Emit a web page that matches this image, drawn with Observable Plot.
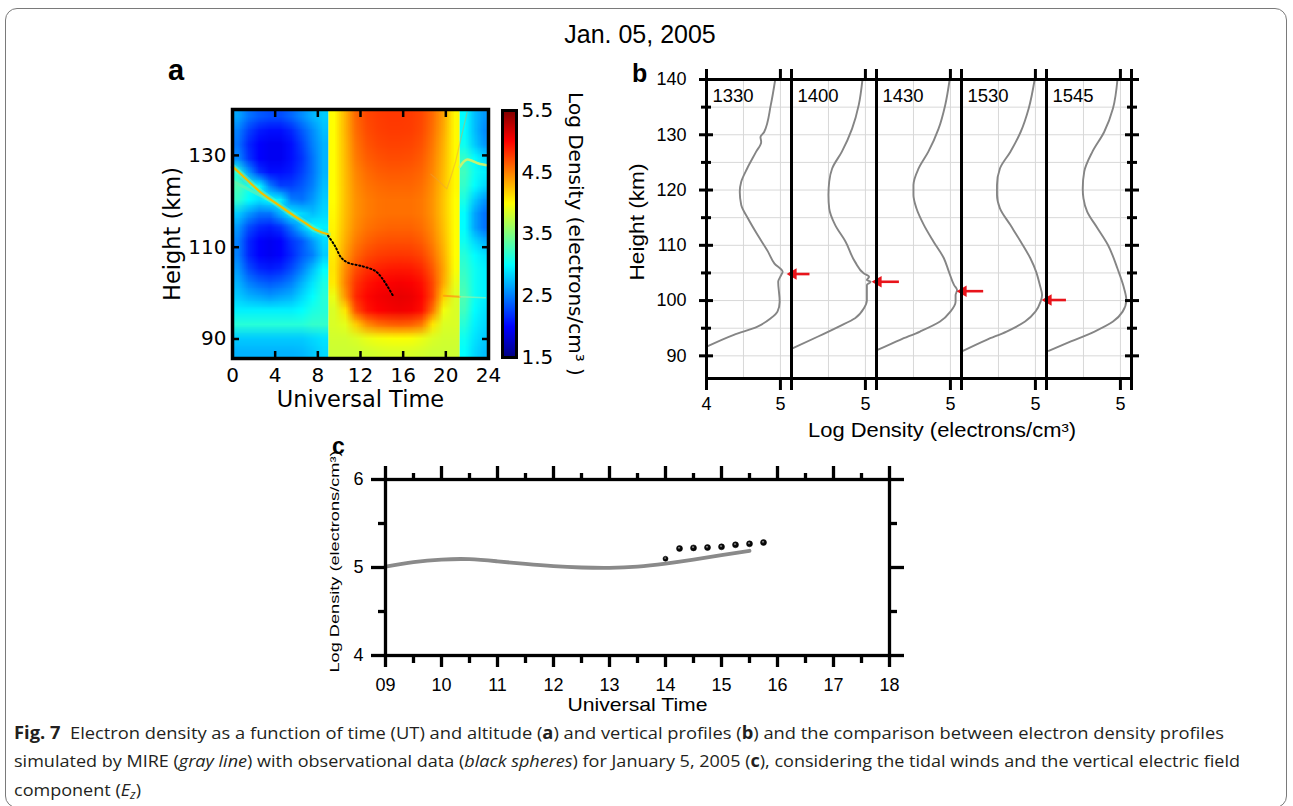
<!DOCTYPE html>
<html>
<head>
<meta charset="utf-8">
<script src="https://cdn.jsdelivr.net/npm/d3@7"></script>
<script src="https://cdn.jsdelivr.net/npm/@observablehq/plot@0.6"></script>
<style>
  html, body { margin: 0; padding: 0; background: #fff; }
  #fig { position: relative; width: 1293px; height: 806px; overflow: hidden; background: #fff; font-family: "Liberation Sans", Arial, sans-serif; color: #000; }
  .abs { position: absolute; }
  #border { position: absolute; left: 5px; top: 8px; width: 1282px; height: 800px; border: 1px solid #7a7a7a; border-radius: 12px; box-sizing: border-box; }
  .letter { position: absolute; font-weight: bold; font-family: "Liberation Sans", Arial, sans-serif; line-height: 1; }
  #title { position: absolute; left: 0; width: 1280px; top: 22px; text-align: center; font-size: 25px; line-height: 25px; }
  .cap-line { position: absolute; left: 14px; white-space: nowrap; font-family: "Open Sans", "Noto Sans", sans-serif; font-size: 17px; line-height: 22px; transform-origin: 0 50%; display: inline-block; color: #231f20; }
  .cap-line b { font-weight: 700; }
  sub { font-size: 0.7em; vertical-align: -0.25em; }
</style>
</head>
<body>
<div id="fig">
  <div id="border"></div>
  <div id="title">Jan. 05, 2005</div>
  <div class="letter" style="left:168px; top:56px; font-size:29px;">a</div>
  <div class="letter" style="left:632px; top:61px; font-size:25px;">b</div>
  <div class="letter" style="left:332px; top:435px; font-size:23px;">c</div>
  <div id="plotA" class="abs" style="left:160px; top:60px;"></div>
  <div id="plotBar" class="abs" style="left:490px; top:60px;"></div>
  <div id="plotB" class="abs" style="left:620px; top:40px;"></div>
  <div id="plotC" class="abs" style="left:320px; top:440px;"></div>
  <div class="cap-line" data-w="1210" style="top:722px;"><b>Fig. 7</b>&nbsp; Electron density as a function of time (UT) and altitude (<b>a</b>) and vertical profiles (<b>b</b>) and the comparison between electron density profiles</div>
  <div class="cap-line" data-w="1226" style="top:750px;">simulated by MIRE (<i>gray line</i>) with observational data (<i>black spheres</i>) for January 5, 2005 (<b>c</b>), considering the tidal winds and the vertical electric field</div>
  <div class="cap-line" data-same="1" style="top:779px;">component (<i>E<sub>z</sub></i>)</div>
</div>
<script>
// ---------------- Panel a: log electron density (rows from top 140 km down to 85.75 km) ----------------
const gridTop = 140, gridBottom = 85.75;
const timeStart = 0, dayStart = 9, dayEnd = 21.3, timeEnd = 24;

// night before sunrise: columns at 0.5 ... 8.5 UT
const nightLeft = [
  [2.65, 2.45, 2.35, 2.30, 2.30, 2.40, 2.55, 2.70, 2.80],
  [2.50, 2.25, 2.10, 2.05, 2.05, 2.15, 2.35, 2.55, 2.75],
  [2.45, 2.15, 2.00, 1.95, 1.95, 2.05, 2.25, 2.50, 2.70],
  [2.55, 2.20, 2.00, 1.95, 1.95, 2.05, 2.20, 2.45, 2.70],
  [3.10, 2.60, 2.20, 2.05, 2.05, 2.10, 2.25, 2.45, 2.70],
  [3.30, 3.10, 3.00, 2.50, 2.25, 2.25, 2.35, 2.50, 2.75],
  [3.20, 3.00, 2.90, 3.00, 2.95, 2.50, 2.45, 2.60, 2.80],
  [2.80, 2.60, 2.45, 2.45, 2.70, 2.95, 2.85, 2.75, 2.85],
  [2.60, 2.30, 2.15, 2.10, 2.20, 2.45, 2.75, 3.00, 2.95],
  [2.50, 2.15, 2.00, 1.95, 2.00, 2.20, 2.35, 2.60, 2.85],
  [2.50, 2.15, 2.00, 1.95, 2.00, 2.15, 2.35, 2.50, 2.80],
  [2.60, 2.30, 2.15, 2.10, 2.15, 2.30, 2.50, 2.75, 3.00],
  [2.70, 2.50, 2.40, 2.35, 2.40, 2.50, 2.70, 2.90, 3.10],
  [2.80, 2.70, 2.65, 2.60, 2.65, 2.70, 2.85, 3.00, 3.15],
  [2.95, 2.95, 2.95, 2.95, 2.95, 2.95, 3.00, 3.10, 3.15],
  [3.15, 3.15, 3.15, 3.15, 3.15, 3.15, 3.15, 3.20, 3.20],
  [2.80, 2.80, 2.80, 2.80, 2.80, 2.80, 2.80, 2.85, 2.90],
  [2.70, 2.70, 2.70, 2.70, 2.70, 2.70, 2.72, 2.78, 2.85]
];
// day side: 12 columns between 9 and 21.3 UT
const daySide = [
  [4.00, 4.30, 4.60, 4.72, 4.76, 4.78, 4.78, 4.77, 4.72, 4.58, 4.35, 4.02],
  [4.00, 4.30, 4.58, 4.70, 4.75, 4.77, 4.77, 4.76, 4.71, 4.56, 4.33, 4.02],
  [4.00, 4.28, 4.55, 4.67, 4.72, 4.74, 4.74, 4.73, 4.68, 4.53, 4.30, 4.02],
  [4.00, 4.27, 4.52, 4.63, 4.68, 4.70, 4.70, 4.69, 4.64, 4.50, 4.28, 4.02],
  [4.00, 4.26, 4.48, 4.58, 4.63, 4.65, 4.65, 4.64, 4.60, 4.47, 4.26, 4.02],
  [4.00, 4.25, 4.45, 4.54, 4.58, 4.60, 4.60, 4.60, 4.56, 4.44, 4.24, 4.02],
  [4.00, 4.25, 4.43, 4.51, 4.55, 4.56, 4.56, 4.56, 4.53, 4.42, 4.22, 4.00],
  [4.02, 4.26, 4.43, 4.51, 4.55, 4.56, 4.56, 4.56, 4.53, 4.42, 4.22, 4.00],
  [4.04, 4.28, 4.46, 4.55, 4.59, 4.61, 4.61, 4.61, 4.57, 4.45, 4.24, 4.00],
  [4.06, 4.32, 4.52, 4.62, 4.67, 4.69, 4.69, 4.69, 4.64, 4.50, 4.27, 4.00],
  [4.08, 4.38, 4.60, 4.71, 4.76, 4.78, 4.79, 4.78, 4.73, 4.57, 4.31, 4.00],
  [4.10, 4.45, 4.70, 4.82, 4.87, 4.90, 4.91, 4.90, 4.84, 4.65, 4.35, 3.98],
  [4.08, 4.50, 4.80, 4.92, 4.98, 5.01, 5.03, 5.01, 4.94, 4.72, 4.33, 3.92],
  [3.92, 4.42, 4.85, 4.98, 5.04, 5.07, 5.09, 5.07, 4.99, 4.72, 4.18, 3.86],
  [3.85, 4.10, 4.70, 4.92, 5.00, 5.03, 5.05, 5.03, 4.94, 4.55, 3.95, 3.85],
  [3.85, 3.90, 4.20, 4.45, 4.57, 4.62, 4.64, 4.62, 4.52, 4.10, 3.86, 3.85],
  [3.82, 3.82, 3.86, 3.92, 3.96, 3.98, 3.99, 3.98, 3.93, 3.86, 3.82, 3.82],
  [3.80, 3.80, 3.80, 3.82, 3.84, 3.85, 3.85, 3.85, 3.83, 3.80, 3.80, 3.80]
];
// night after sunset: 3 columns between 21.3 and 24 UT
const nightRight = [
  [3.00, 2.75, 2.60], [3.00, 2.75, 2.55], [3.05, 2.80, 2.60], [3.20, 3.00, 2.85],
  [3.25, 3.05, 2.95], [3.20, 3.00, 2.85], [3.10, 2.80, 2.60], [3.00, 2.65, 2.45],
  [3.00, 2.65, 2.45], [3.05, 2.85, 2.70], [3.15, 3.00, 2.90], [3.20, 3.05, 2.95],
  [3.25, 3.05, 2.95], [3.30, 3.05, 2.95], [3.25, 3.00, 2.90], [3.15, 2.95, 2.85],
  [3.05, 2.90, 2.80], [3.00, 2.85, 2.75]
];
// thin layers in panel a
const layerT  = [0.1, 1.3, 2.67, 4.2, 5.8, 7.0, 7.7, 8.4, 8.95];
const layerH  = [127.4, 124.8, 121.9, 119.4, 116.8, 115.0, 113.9, 113.2, 112.8];
const layer2T = [0.1, 1.5, 3.0, 4.2];
const layer2H = [124.3, 122.6, 120.8, 119.4];
const layer3T = [21.3, 21.7, 22.0, 22.5, 23.0, 23.5, 24.0];
const layer3H = [127.5, 128.7, 129.1, 128.8, 128.3, 128.0, 127.8];
const vLineT  = [18.6, 19.3, 20.1, 20.5, 20.9, 21.4, 22.0];
const vLineH  = [125.9, 124.5, 122.7, 125.5, 128.5, 133.5, 139.4];
const eveDayT = [19.8, 20.5, 21.3];
const eveDayH = [99.4, 99.3, 99.2];
const eveNightT = [21.3, 22.5, 23.7];
const eveNightH = [99.2, 99.1, 99.0];
const peakT = [8.96, 9.6, 10.2, 10.85, 12.1, 13.4, 14.0, 14.6, 15.1];
const peakH = [112.5, 110.3, 107.7, 106.6, 105.9, 104.8, 103.3, 101.2, 99.2];

const aTicksX = [0, 4, 8, 12, 16, 20, 24];
const aTicksY = [90, 110, 130];
const barTicks = [1.5, 2.5, 3.5, 4.5, 5.5];
const jetDomain = [1.5, 2.0, 3.0, 4.0, 5.0, 5.5];
const jetColors = ["#000080", "#0000ff", "#00ffff", "#ffff00", "#ff0000", "#800000"];

// ---------------- Panel b: vertical profiles ----------------
const bTimes = ["1330", "1400", "1430", "1530", "1545"];
const h1330 = [140, 135.4, 130.5, 129.6, 128.7, 126.9, 123.9, 121.5, 119.7, 117.3, 114.9, 111.9, 108.9, 106.7, 105.2, 104.6, 103.4, 99.8, 98.0, 96.8, 95.3, 93.8, 91.7];
const d1330 = [4.93, 4.87, 4.78, 4.73, 4.74, 4.67, 4.55, 4.47, 4.45, 4.47, 4.56, 4.69, 4.83, 4.92, 5.03, 5.01, 4.97, 4.99, 4.96, 4.87, 4.69, 4.37, 4.01];
const h1400 = [140, 135.4, 131.1, 126.9, 123.9, 121.5, 119.1, 116.7, 113.7, 110.7, 107.0, 104.9, 104.3, 103.7, 103.4, 102.8, 100.1, 98.6, 96.8, 95.3, 93.5, 91.4];
const d1400 = [4.96, 4.91, 4.82, 4.68, 4.55, 4.51, 4.50, 4.51, 4.59, 4.73, 4.86, 4.98, 5.05, 5.02, 5.07, 5.02, 5.02, 4.98, 4.86, 4.64, 4.36, 4.02];
const h1430 = [140, 135.4, 131.1, 126.9, 123.9, 120.9, 119.1, 116.7, 113.7, 110.7, 107.7, 105.2, 102.8, 101.9, 101.0, 99.8, 98.0, 96.2, 94.4, 92.9, 91.1];
const d1430 = [4.99, 4.93, 4.84, 4.70, 4.57, 4.50, 4.50, 4.54, 4.64, 4.77, 4.91, 4.98, 5.05, 5.09, 5.07, 5.07, 5.00, 4.86, 4.59, 4.32, 4.02];
const h1530 = [140, 134.8, 130.5, 126.9, 123.9, 120.9, 119.1, 116.7, 113.7, 110.7, 107.7, 105.2, 102.8, 101.0, 99.8, 98.0, 96.2, 94.4, 92.9, 90.9];
const d1530 = [4.99, 4.91, 4.80, 4.66, 4.52, 4.48, 4.48, 4.52, 4.66, 4.80, 4.93, 5.01, 5.06, 5.09, 5.07, 5.00, 4.86, 4.61, 4.34, 4.02];
const h1545 = [140, 134.8, 130.5, 126.9, 123.3, 120.3, 118.5, 116.1, 113.1, 110.1, 105.8, 102.2, 100.1, 98.0, 96.2, 94.4, 92.6, 90.9];
const d1545 = [4.96, 4.90, 4.78, 4.62, 4.51, 4.49, 4.50, 4.55, 4.69, 4.83, 4.96, 5.05, 5.08, 5.03, 4.90, 4.65, 4.33, 4.03];
const arrowPanel = ["1400", "1430", "1530", "1545"];
const arrowH = [104.8, 103.4, 101.7, 100.1];
const arrowTail = [4.25, 4.31, 4.30, 4.27];
const arrowTip = [3.97, 3.97, 3.97, 3.97];
const bMajorY = [90, 100, 110, 120, 130, 140];
const bMinorY = [95, 105, 115, 125, 135];
const bGridY = [90, 95, 100, 105, 110, 115, 120, 125, 130, 135, 140];
const bGridX = [4.5, 5];
const bTicksX = [4, 5, 5.15];

// ---------------- Panel c: peak density vs time ----------------
const cT = [9, 9.5, 10, 10.5, 11, 11.5, 12, 12.5, 13, 13.5, 14, 14.5, 15, 15.5];
const cV = [5.01, 5.06, 5.09, 5.095, 5.07, 5.04, 5.015, 5.0, 4.996, 5.01, 5.045, 5.09, 5.14, 5.19];
const cDotT = [14, 14.25, 14.5, 14.75, 15, 15.25, 15.5, 15.75];
const cDotV = [5.10, 5.216, 5.223, 5.227, 5.235, 5.258, 5.269, 5.284];
const cMajorX = [9, 10, 11, 12, 13, 14, 15, 16, 17, 18];
const cMinorX = [9.5, 10.5, 11.5, 12.5, 13.5, 14.5, 15.5, 16.5, 17.5];
const cTickLabels = ["09", "10", "11", "12", "13", "14", "15", "16", "17", "18"];
const cMajorY = [4, 5, 6];
const cMinorY = [4.5, 5.5];

// ================= build =================
const pts = (T, H) => T.map((t, i) => ({t, h: H[i]}));
const jet = () => ({type: "linear", domain: jetDomain, range: jetColors, interpolate: "rgb", clamp: true});
const fontA = "'DejaVu Sans', sans-serif";
const fontB = "'Liberation Sans', Arial, sans-serif";
const blank = () => "";

function raster(grid, xa, xb) {
  return Plot.raster(grid.flat(), {width: grid[0].length, height: grid.length, x1: xa, x2: xb, y1: gridTop, y2: gridBottom, fill: Plot.identity});
}

const plotA = Plot.plot({
  width: 340, height: 370, marginLeft: 72, marginRight: 12, marginTop: 49, marginBottom: 72,
  x: {domain: [timeStart, timeEnd]}, y: {domain: [gridBottom, gridTop]},
  color: jet(),
  style: {fontFamily: fontA, fontSize: "20px", color: "#000", background: "transparent", overflow: "visible"},
  marks: [
    raster(nightLeft, timeStart, dayStart),
    raster(daySide, dayStart, dayEnd),
    raster(nightRight, dayEnd, timeEnd),
    Plot.line(pts(layerT, layerH), {x: "t", y: "h", stroke: "#74f7a8", strokeWidth: 6, strokeOpacity: 0.45}),
    Plot.line(pts(layer2T, layer2H), {x: "t", y: "h", stroke: "#6ef0a6", strokeWidth: 3, strokeOpacity: 0.6}),
    Plot.line(pts(layerT, layerH), {x: "t", y: "h", stroke: "#f2c000", strokeWidth: 2.2, curve: "catmull-rom"}),
    Plot.line(pts(vLineT, vLineH), {x: "t", y: "h", stroke: "#e8a040", strokeWidth: 1.2, strokeOpacity: 0.45}),
    Plot.line(pts(eveDayT, eveDayH), {x: "t", y: "h", stroke: "#ff9a10", strokeWidth: 2, strokeOpacity: 0.8}),
    Plot.line(pts(eveNightT, eveNightH), {x: "t", y: "h", stroke: "#a8f0a0", strokeWidth: 1.5, strokeOpacity: 0.6}),
    Plot.line(pts(layer3T, layer3H), {x: "t", y: "h", stroke: "#c2f274", strokeWidth: 2.6, curve: "catmull-rom"}),
    Plot.line(pts(peakT, peakH), {x: "t", y: "h", stroke: "#000", strokeWidth: 2, strokeDasharray: "1.2 2.6", curve: "catmull-rom"}),
    Plot.frame({stroke: "#000", strokeWidth: 3.5}),
    Plot.axisX({anchor: "bottom", ticks: aTicksX, tickSize: -7, strokeWidth: 2.5, tickFormat: blank, label: null}),
    Plot.axisX({anchor: "top", ticks: aTicksX, tickSize: -7, strokeWidth: 2.5, tickFormat: blank, label: null}),
    Plot.axisY({anchor: "left", ticks: aTicksY, tickSize: -7, strokeWidth: 2.5, tickFormat: blank, label: null}),
    Plot.axisY({anchor: "right", ticks: aTicksY, tickSize: -7, strokeWidth: 2.5, tickFormat: blank, label: null}),
    Plot.axisX({anchor: "bottom", ticks: aTicksX, tickSize: 0, tickPadding: 9, label: null, fontSize: 20, fontFamily: fontA}),
    Plot.axisY({anchor: "left", ticks: aTicksY, tickSize: 0, tickPadding: 6, label: null, fontSize: 20, fontFamily: fontA}),
    Plot.text(["Universal Time"], {text: d => d, frameAnchor: "bottom", dy: 41, lineAnchor: "middle", textAnchor: "middle", fontSize: 22.5, fontFamily: fontA}),
    Plot.text(["Height (km)"], {text: d => d, frameAnchor: "left", dx: -60, rotate: -90, lineAnchor: "middle", textAnchor: "middle", fontSize: 22.5, fontFamily: fontA})
  ]
});
document.getElementById("plotA").append(plotA);

const plotBar = Plot.plot({
  width: 110, height: 370, marginLeft: 12, marginRight: 84, marginTop: 50, marginBottom: 73,
  x: {domain: [0, 1], axis: null}, y: {domain: [1.5, 5.5], axis: null},
  color: jet(),
  style: {fontFamily: fontA, fontSize: "20px", color: "#000", background: "transparent", overflow: "visible"},
  marks: [
    Plot.raster({fill: (x, y) => y, x1: 0, x2: 1, y1: 1.5, y2: 5.5, pixelSize: 1}),
    Plot.frame({stroke: "#000", strokeWidth: 3}),
    Plot.axisY({anchor: "right", ticks: barTicks, tickSize: 0, tickPadding: 5, tickFormat: d3.format(".1f"), label: null, fontSize: 20, fontFamily: fontA}),
    Plot.text(["Log Density (electrons/cm\u00b3 )"], {text: d => d, frameAnchor: "right", dx: 59, rotate: 90, lineAnchor: "middle", textAnchor: "middle", fontSize: 20, fontFamily: fontA})
  ]
});
document.getElementById("plotBar").append(plotBar);

// ---- panel b ----
const profileSets = [[h1330, d1330], [h1400, d1400], [h1430, d1430], [h1530, d1530], [h1545, d1545]];
const profiles = profileSets.flatMap(([H, D], k) => H.map((h, i) => ({time: bTimes[k], h, d: D[i]})));
const arrows = arrowPanel.map((p, i) => ({panel: p, h: arrowH[i], tail: arrowTail[i], tip: arrowTip[i]}));
const bLabels = bTimes.flatMap((t, i) => (i === 0 ? [4, 5] : [5]).map(v => ({time: t, v})));
const red = "#e8141b";

const plotB = Plot.plot({
  width: 530, height: 400, marginLeft: 84, marginRight: 18, marginTop: 39, marginBottom: 62,
  fx: {domain: bTimes, padding: 0, axis: null, label: null},
  x: {domain: [4, 5.15]}, y: {domain: [85.9, 140]},
  style: {fontFamily: fontB, fontSize: "18px", color: "#000", background: "transparent", overflow: "visible"},
  marks: [
    Plot.gridX({ticks: bGridX, stroke: "#d8d8d8", strokeOpacity: 1}),
    Plot.gridY({ticks: bGridY, stroke: "#d8d8d8", strokeOpacity: 1}),
    Plot.line(profiles, {fx: "time", x: "d", y: "h", stroke: "#858585", strokeWidth: 1.9, curve: "monotone-y"}),
    Plot.ruleY(arrows, {fx: "panel", y: "h", x1: "tip", x2: "tail", stroke: red, strokeWidth: 2.6}),
    Plot.dot(arrows, {fx: "panel", x: "tip", y: "h", symbol: "triangle2", rotate: -90, r: 5.5, fill: red, dx: 4}),
    Plot.frame({stroke: "#000", strokeWidth: 3}),
    Plot.axisX({anchor: "bottom", ticks: bTicksX, tickSize: 12, strokeWidth: 3, tickFormat: blank, label: null}),
    Plot.axisX({anchor: "top", ticks: bTicksX, tickSize: 11, strokeWidth: 3, tickFormat: blank, label: null}),
    Plot.axisY({anchor: "left", ticks: bMajorY, tickSize: 7, strokeWidth: 3, tickFormat: blank, label: null}),
    Plot.axisY({anchor: "left", ticks: bMajorY, tickSize: -7, strokeWidth: 3, tickFormat: blank, label: null}),
    Plot.axisY({anchor: "left", ticks: bMinorY, tickSize: 5, strokeWidth: 3, tickFormat: blank, label: null}),
    Plot.axisY({anchor: "left", ticks: bMinorY, tickSize: -5, strokeWidth: 3, tickFormat: blank, label: null}),
    Plot.axisY({anchor: "right", ticks: bMajorY, tickSize: 7, strokeWidth: 3, tickFormat: blank, label: null}),
    Plot.axisY({anchor: "right", ticks: bMajorY, tickSize: -7, strokeWidth: 3, tickFormat: blank, label: null}),
    Plot.axisY({anchor: "right", ticks: bMinorY, tickSize: 5, strokeWidth: 3, tickFormat: blank, label: null}),
    Plot.axisY({anchor: "right", ticks: bMinorY, tickSize: -5, strokeWidth: 3, tickFormat: blank, label: null}),
    Plot.axisY({anchor: "left", ticks: bMajorY, tickSize: 0, tickPadding: 20, label: null, fontSize: 18, fontFamily: fontB}),
    Plot.text(bLabels, {fx: "time", x: "v", text: d => String(d.v), frameAnchor: "bottom", dy: 26, lineAnchor: "middle", textAnchor: "middle", fontSize: 18}),
    Plot.text(bTimes, {fx: d => d, text: d => d, frameAnchor: "top-left", dx: 6, dy: 9, lineAnchor: "top", textAnchor: "start", fontSize: 18.5}),
    Plot.text(["Height (km)"], {fx: () => bTimes[0], text: d => d, frameAnchor: "left", dx: -69, dy: -7, rotate: -90, lineAnchor: "middle", textAnchor: "middle", fontSize: 20, className: "ttl-bh"}),
    Plot.text(["Log Density (electrons/cm\u00b3)"], {fx: () => bTimes[2], text: d => d, frameAnchor: "bottom", dx: 23, dy: 52, lineAnchor: "middle", textAnchor: "middle", fontSize: 19.5, className: "ttl-bx"})
  ]
});
document.getElementById("plotB").append(plotB);

// ---- panel c ----
const cLine = cT.map((t, i) => ({t, v: cV[i]}));
const cDots = cDotT.map((t, i) => ({t, v: cDotV[i]}));
const sphereDefs = () => {
  const ns = "http://www.w3.org/2000/svg";
  const defs = document.createElementNS(ns, "defs");
  defs.innerHTML = '<radialGradient id="sphere" cx="0.42" cy="0.38" r="0.6"><stop offset="0" stop-color="#e8e8e8"/><stop offset="0.12" stop-color="#8a8a8a"/><stop offset="0.36" stop-color="#111111"/><stop offset="1" stop-color="#000000"/></radialGradient>';
  return defs;
};
const cLabelFmt = d => cTickLabels[cMajorX.indexOf(d)];

const plotC = Plot.plot({
  width: 600, height: 290, marginLeft: 65, marginRight: 31, marginTop: 39, marginBottom: 75,
  x: {domain: [9, 18]}, y: {domain: [4, 6]},
  style: {fontFamily: fontB, fontSize: "18px", color: "#000", background: "transparent", overflow: "visible"},
  marks: [
    sphereDefs,
    Plot.line(cLine, {x: "t", y: "v", stroke: "#8a8a8a", strokeWidth: 3.8, curve: "natural"}),
    Plot.dot(cDots, {x: "t", y: "v", r: (d, i) => (i === 0 ? 3.8 : 5.4), fill: "url(#sphere)", stroke: "#000", strokeWidth: 0.5}),
    Plot.frame({stroke: "#000", strokeWidth: 3.3}),
    Plot.axisX({anchor: "top", ticks: cMajorX, tickSize: 14, strokeWidth: 3.3, tickFormat: blank, label: null}),
    Plot.axisX({anchor: "top", ticks: cMinorX, tickSize: 7, strokeWidth: 3.3, tickFormat: blank, label: null}),
    Plot.axisX({anchor: "bottom", ticks: cMajorX, tickSize: 12, strokeWidth: 3.3, tickFormat: blank, label: null}),
    Plot.axisX({anchor: "bottom", ticks: cMinorX, tickSize: 8, strokeWidth: 3.3, tickFormat: blank, label: null}),
    Plot.axisY({anchor: "left", ticks: cMajorY, tickSize: 14, strokeWidth: 3.3, tickFormat: blank, label: null}),
    Plot.axisY({anchor: "left", ticks: cMinorY, tickSize: 7, strokeWidth: 3.3, tickFormat: blank, label: null}),
    Plot.axisY({anchor: "right", ticks: cMajorY, tickSize: 14, strokeWidth: 3.3, tickFormat: blank, label: null}),
    Plot.axisY({anchor: "right", ticks: cMinorY, tickSize: 7, strokeWidth: 3.3, tickFormat: blank, label: null}),
    Plot.axisX({anchor: "bottom", ticks: cMajorX, tickSize: 0, tickPadding: 23, tickFormat: cLabelFmt, label: null, fontSize: 18}),
    Plot.axisY({anchor: "left", ticks: cMajorY, tickSize: 0, tickPadding: 22, tickFormat: d => String(d), label: null, fontSize: 18}),
    Plot.text(["Universal Time"], {text: d => d, frameAnchor: "bottom", dy: 50, lineAnchor: "middle", textAnchor: "middle", fontSize: 18.5, className: "ttl-cx"}),
    Plot.text(["Log Density (electrons/cm\u00b3)"], {text: d => d, frameAnchor: "left", dx: -50, dy: -6, rotate: -90, lineAnchor: "middle", textAnchor: "middle", fontSize: 12, className: "ttl-cy"})
  ]
});
document.getElementById("plotC").append(plotC);

// stretch a few axis titles to the lengths seen in the figure
function stretch(cls, len) {
  document.querySelectorAll("." + cls + " text").forEach(t => {
    t.setAttribute("textLength", len);
    t.setAttribute("lengthAdjust", "spacingAndGlyphs");
  });
}
stretch("ttl-bh", 117);
stretch("ttl-bx", 268);
stretch("ttl-cx", 140);
stretch("ttl-cy", 222);

// fit caption lines to the widths in the figure
let lastScale = 1;
document.querySelectorAll(".cap-line").forEach(el => {
  const natural = el.getBoundingClientRect().width;
  const s = el.dataset.w ? (+el.dataset.w / natural) : lastScale;
  el.style.transform = "scaleX(" + s + ")";
  lastScale = s;
});
</script>
</body>
</html>
